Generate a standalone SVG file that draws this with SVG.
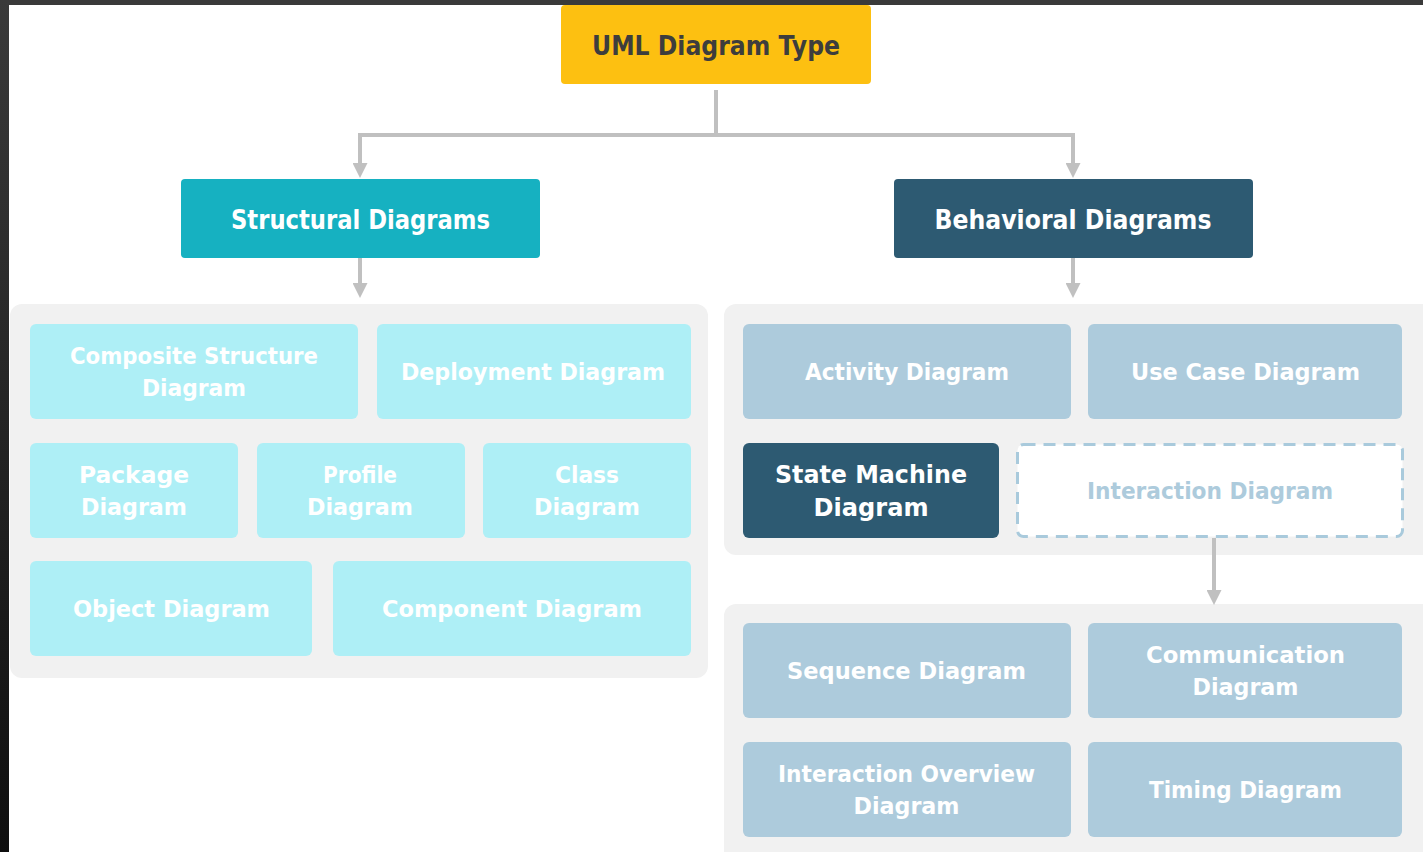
<svg xmlns="http://www.w3.org/2000/svg" width="1423" height="852" viewBox="0 0 1423 852">
  <defs>
    <linearGradient id="edgeShade" x1="0" y1="0" x2="0" y2="1">
      <stop offset="0" stop-color="#3a3a3a"/>
      <stop offset="1" stop-color="#0f0f0f"/>
    </linearGradient>
    <marker id="arrowHead" viewBox="0 0 15 15" refX="5" refY="7.5" markerWidth="15" markerHeight="15" markerUnits="userSpaceOnUse" orient="auto">
      <path d="M0,0 L15,7.5 L0,15 z" fill="#c0c0c0"/>
    </marker>
    <style>
      .panel { fill: #f1f1f1; }
      .cyan { fill: #aeeff6; }
      .blue { fill: #adcbdc; }
      .dark { fill: #2d5a72; }
      .teal { fill: #16b1c1; }
      .gold { fill: #fdc011; }
      .dashed { fill: #ffffff; stroke: #a9cadc; stroke-width: 3; stroke-dasharray: 12 8; }
      .link { fill: none; stroke: #c0c0c0; stroke-width: 4; marker-end: url(#arrowHead); }
      text { font-family: "DejaVu Sans", "Liberation Sans", sans-serif; font-weight: bold; text-anchor: middle; }
      .lbl { font-size: 23px; fill: #ffffff; }
      .lbl-big { font-size: 25px; fill: #ffffff; }
      .lbl-soft { font-size: 23px; fill: #adcbdc; }
      .head { font-size: 27px; fill: #ffffff; }
      .head-dark { font-size: 27px; fill: #3d3d3d; }
    </style>
  </defs>

  <!-- page background -->
  <rect x="0" y="0" width="1423" height="852" fill="#ffffff"/>

  <!-- grey group panels -->
  <g id="panels">
    <rect class="panel" x="10" y="304" width="698" height="374" rx="12"/>
    <rect class="panel" x="724" y="304" width="712" height="251" rx="12"/>
    <rect class="panel" x="724" y="604" width="712" height="270" rx="12"/>
  </g>

  <!-- connectors -->
  <g id="connectors">
    <path class="link" d="M716,90 V135 H360 V168"/>
    <path class="link" d="M716,135 H1073 V168"/>
    <path class="link" d="M360,258 V288"/>
    <path class="link" d="M1073,258 V288"/>
    <path class="link" d="M1214,538 V595"/>
  </g>

  <!-- root -->
  <g id="uml-diagram-type">
    <rect class="gold" x="561" y="5" width="310" height="79" rx="4"/>
    <text class="head-dark" x="716" y="55" textLength="248" lengthAdjust="spacingAndGlyphs">UML Diagram Type</text>
  </g>

  <!-- categories -->
  <g id="structural-diagrams">
    <rect class="teal" x="181" y="179" width="359" height="79" rx="4"/>
    <text class="head" x="360.5" y="229" textLength="259" lengthAdjust="spacingAndGlyphs">Structural Diagrams</text>
  </g>
  <g id="behavioral-diagrams">
    <rect class="dark" x="894" y="179" width="359" height="79" rx="4"/>
    <text class="head" x="1073" y="229" textLength="277" lengthAdjust="spacingAndGlyphs">Behavioral Diagrams</text>
  </g>

  <!-- structural diagram types -->
  <g id="composite-structure-diagram">
    <rect class="cyan" x="30" y="324" width="328" height="95" rx="6"/>
    <text class="lbl" x="194" y="364" textLength="248" lengthAdjust="spacingAndGlyphs">Composite Structure</text>
    <text class="lbl" x="194" y="396" textLength="104" lengthAdjust="spacingAndGlyphs">Diagram</text>
  </g>
  <g id="deployment-diagram">
    <rect class="cyan" x="377" y="324" width="314" height="95" rx="6"/>
    <text class="lbl" x="533" y="380" textLength="264" lengthAdjust="spacingAndGlyphs">Deployment Diagram</text>
  </g>
  <g id="package-diagram">
    <rect class="cyan" x="30" y="443" width="208" height="95" rx="6"/>
    <text class="lbl" x="134" y="483" textLength="110" lengthAdjust="spacingAndGlyphs">Package</text>
    <text class="lbl" x="134" y="515" textLength="106" lengthAdjust="spacingAndGlyphs">Diagram</text>
  </g>
  <g id="profile-diagram">
    <rect class="cyan" x="257" y="443" width="208" height="95" rx="6"/>
    <text class="lbl" x="360" y="483" textLength="74" lengthAdjust="spacingAndGlyphs">Profile</text>
    <text class="lbl" x="360" y="515" textLength="106" lengthAdjust="spacingAndGlyphs">Diagram</text>
  </g>
  <g id="class-diagram">
    <rect class="cyan" x="483" y="443" width="208" height="95" rx="6"/>
    <text class="lbl" x="587" y="483" textLength="64" lengthAdjust="spacingAndGlyphs">Class</text>
    <text class="lbl" x="587" y="515" textLength="106" lengthAdjust="spacingAndGlyphs">Diagram</text>
  </g>
  <g id="object-diagram">
    <rect class="cyan" x="30" y="561" width="282" height="95" rx="6"/>
    <text class="lbl" x="171.5" y="617" textLength="197" lengthAdjust="spacingAndGlyphs">Object Diagram</text>
  </g>
  <g id="component-diagram">
    <rect class="cyan" x="333" y="561" width="358" height="95" rx="6"/>
    <text class="lbl" x="512" y="617" textLength="260" lengthAdjust="spacingAndGlyphs">Component Diagram</text>
  </g>

  <!-- behavioral diagram types -->
  <g id="activity-diagram">
    <rect class="blue" x="743" y="324" width="328" height="95" rx="6"/>
    <text class="lbl" x="907" y="380" textLength="204" lengthAdjust="spacingAndGlyphs">Activity Diagram</text>
  </g>
  <g id="use-case-diagram">
    <rect class="blue" x="1088" y="324" width="314" height="95" rx="6"/>
    <text class="lbl" x="1245.5" y="380" textLength="229" lengthAdjust="spacingAndGlyphs">Use Case Diagram</text>
  </g>
  <g id="state-machine-diagram">
    <rect class="dark" x="743" y="443" width="256" height="95" rx="6"/>
    <text class="lbl-big" x="871" y="483" textLength="192" lengthAdjust="spacingAndGlyphs">State Machine</text>
    <text class="lbl-big" x="871" y="516" textLength="115" lengthAdjust="spacingAndGlyphs">Diagram</text>
  </g>
  <g id="interaction-diagram">
    <rect class="dashed" x="1017.5" y="444.5" width="385" height="92" rx="6"/>
    <text class="lbl-soft" x="1210" y="499" textLength="246" lengthAdjust="spacingAndGlyphs">Interaction Diagram</text>
  </g>

  <!-- interaction diagram types -->
  <g id="sequence-diagram">
    <rect class="blue" x="743" y="623" width="328" height="95" rx="6"/>
    <text class="lbl" x="906.5" y="679" textLength="239" lengthAdjust="spacingAndGlyphs">Sequence Diagram</text>
  </g>
  <g id="communication-diagram">
    <rect class="blue" x="1088" y="623" width="314" height="95" rx="6"/>
    <text class="lbl" x="1245.5" y="663" textLength="199" lengthAdjust="spacingAndGlyphs">Communication</text>
    <text class="lbl" x="1245.5" y="695" textLength="106" lengthAdjust="spacingAndGlyphs">Diagram</text>
  </g>
  <g id="interaction-overview-diagram">
    <rect class="blue" x="743" y="742" width="328" height="95" rx="6"/>
    <text class="lbl" x="906.5" y="782" textLength="257" lengthAdjust="spacingAndGlyphs">Interaction Overview</text>
    <text class="lbl" x="906.5" y="814" textLength="106" lengthAdjust="spacingAndGlyphs">Diagram</text>
  </g>
  <g id="timing-diagram">
    <rect class="blue" x="1088" y="742" width="314" height="95" rx="6"/>
    <text class="lbl" x="1245.5" y="798" textLength="193" lengthAdjust="spacingAndGlyphs">Timing Diagram</text>
  </g>

  <!-- dark window edges -->
  <g id="frame">
    <rect x="0" y="0" width="1423" height="5" fill="#3a3a3a"/>
    <rect x="0" y="0" width="9" height="852" fill="url(#edgeShade)"/>
  </g>
</svg>
